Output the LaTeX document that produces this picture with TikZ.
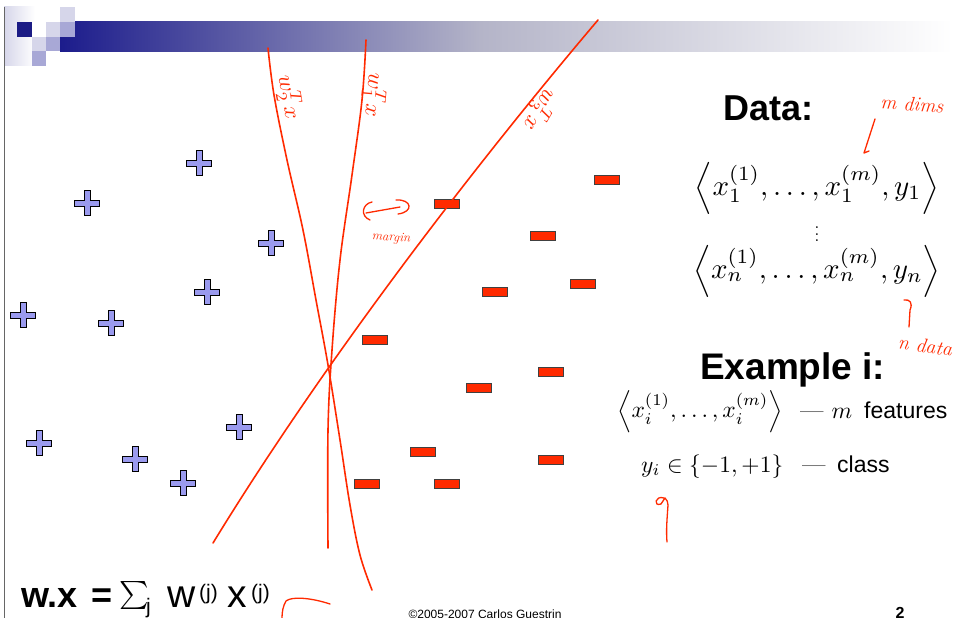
\documentclass[tikz,border=0pt]{standalone}
\usepackage{graphicx}
\usepackage{fontspec}
\setsansfont{Liberation Sans}
\definecolor{navy}{HTML}{1C1C8C}
\definecolor{barmid}{HTML}{B4B4C8}
\definecolor{lavL}{HTML}{D6D6EA}
\definecolor{lavM}{HTML}{A8A8D6}
\definecolor{plusfill}{HTML}{9A9AEE}
\definecolor{minusfill}{HTML}{FF2A00}
\definecolor{ink}{HTML}{FF2A00}
\tikzset{
  plusmark/.pic={\filldraw[fill=plusfill,draw=black,line width=0.9pt]
    (-3,-12.5) -- (3,-12.5) -- (3,-3) -- (12.5,-3) -- (12.5,3) -- (3,3) -- (3,12.5)
    -- (-3,12.5) -- (-3,3) -- (-12.5,3) -- (-12.5,-3) -- (-3,-3) -- cycle;},
  minusmark/.pic={\filldraw[fill=minusfill,draw=black!75,line width=0.9pt]
    (-12.5,-4.5) rectangle (12.5,4.5);},
  inkline/.style={draw=ink,line width=1.6pt,line cap=round,line join=round},
  inkthin/.style={draw=ink,line width=1.3pt,line cap=round,line join=round},
  hand/.style={text=ink,font=\itshape,inner sep=0pt},
  bigsans/.style={font=\sffamily\bfseries,inner sep=0pt},
  mathtxt/.style={inner sep=0pt},
  wxtxt/.style={anchor=base west,inner sep=0pt,font=\sffamily\fontsize{39}{42}\selectfont},
  suptxt/.style={anchor=base west,inner sep=0pt,font=\sffamily\fontsize{21}{23}\selectfont},
}
\begin{document}
\begin{tikzpicture}[x=1pt,y=-1pt]
\clip (0,0) rectangle (953,618);
\fill[white] (0,0) rectangle (953,618);
% header bar
\shade[left color=navy,right color=barmid] (60,22) rectangle (480,52);
\shade[left color=barmid,right color=white] (479.5,22) rectangle (953,52);
\shade[left color=lavL,right color=white] (4,7) rectangle (35,66);
\fill[white] (32,22) rectangle (60,37);
\fill[navy!95!black] (17,22) rectangle (32,37);
\fill[lavL] (60,7) rectangle (75,22);
\fill[lavL] (46,22) rectangle (60,37);
\fill[lavM] (60,22) rectangle (75,37);
\fill[lavL] (32,37) rectangle (46,51);
\fill[lavM] (46,37) rectangle (60,51);
\fill[lavM] (32,51) rectangle (46,66);
\draw[black!60,line width=1pt] (4,7) -- (4,618);
% plus points
\foreach \p in {(199,163),(87,203),(271,243),(207,292),(23,315),(111,323),(39,443),(135,459),(239,427),(183,483)}
  \pic at \p {plusmark};
% minus points
\foreach \p in {(607,180),(447,204),(543,236),(495,292),(583,284),(375,340),(551,372),(479,388),(423,452),(551,460),(367,484),(447,484)}
  \pic at \p {minusmark};
% separating lines
\draw[inkline] plot[smooth,tension=0.6] coordinates {(268,48) (274,95) (287,160) (303,230) (316,300) (328,365) (340,440) (350,505) (360,555) (372,590)};
\draw[inkline] plot[smooth,tension=0.6] coordinates {(366,40) (362,100) (352,175) (340,260) (332,350) (328,430) (328,548)};
\draw[inkline] (598,20) .. controls (475,165) and (325,360) .. (213,543);
% line labels
\node[hand,rotate=-80] (lw2) at (289,97) {\scalebox{2.3}{$w_2^T x$}};
\node[hand,rotate=-95] (lw1) at (374,95) {\scalebox{2.3}{$w_1^T x$}};
\node[hand,rotate=-120] (lw3) at (540,110) {\scalebox{2.3}{$w_3^T x$}};
% margin
\draw[inkthin] (372,202) .. controls (362,204) and (360,216) .. (370,220);
\draw[inkthin] (366,213) -- (400,207);
\draw[inkthin] (396,200) .. controls (412,199) and (414,212) .. (398,214);
\node[hand,font=\itshape\fontsize{13}{13}\selectfont,rotate=-4] (mg) at (391,238) {margin};
% right text
\node[bigsans,anchor=base west,font=\sffamily\bfseries\fontsize{36}{40}\selectfont] (data) at (723,120) {Data:};
\node[mathtxt] (row1) at (817,188) {\scalebox{2.9}{$\left\langle x_1^{(1)},\ldots,x_1^{(m)},y_1\right\rangle$}};
\node[mathtxt] (vd) at (817,229) {\scalebox{1.7}{$\vdots$}};
\node[mathtxt] (rown) at (817,271) {\scalebox{2.9}{$\left\langle x_n^{(1)},\ldots,x_n^{(m)},y_n\right\rangle$}};
\node[bigsans,anchor=base west,font=\sffamily\bfseries\fontsize{37}{40}\selectfont] (ex) at (700,379) {Example i:};
\node[mathtxt,anchor=west] (exf) at (617,412) {\scalebox{2.35}{$\left\langle x_i^{(1)},\ldots,x_i^{(m)}\right\rangle$}};
\node[mathtxt,anchor=base west] (fdash) at (800,418) {\scalebox{2.35}{--- $m$}};
\node[mathtxt,anchor=base west,font=\sffamily\fontsize{23}{26}\selectfont] (feat) at (864,418) {features};
\node[mathtxt,anchor=base west] (ycls) at (641,472) {\scalebox{2.35}{$y_i\in\{-1,+1\}$}};
\node[mathtxt,anchor=base west] (cdash) at (802,472) {\scalebox{2.35}{---}};
\node[mathtxt,anchor=base west,font=\sffamily\fontsize{23}{26}\selectfont] (cls) at (837,472) {class};
% handwritten notes on right
\node[hand,font=\itshape\fontsize{20}{20}\selectfont,rotate=-4] (mdims) at (912,104) {m dims};
\draw[inkthin] (875,119) -- (864,153) -- (869,151);
\node[hand,font=\itshape\fontsize{20}{20}\selectfont,rotate=-8,anchor=west] (ndata) at (898,342) {n data};
\draw[inkthin] (904,300) .. controls (910,299) and (913,303) .. (910,310) -- (909,327);
\draw[inkthin] (664,498) .. controls (655,495) and (653,507) .. (661,504) -- (665,498) .. controls (667,500) and (668,502) .. (668,505) .. controls (667,520) and (666,530) .. (667,542);
% bottom formula
\node[wxtxt,font=\sffamily\bfseries\fontsize{36}{40}\selectfont] (wdotx) at (21,607) {w.x};
\node[wxtxt,font=\sffamily\bfseries\fontsize{36}{40}\selectfont] (eq) at (91,607) {=};
\node[anchor=base west,inner sep=0pt] (sum) at (119,602) {\scalebox{2.8}{$\sum$}};
\node[suptxt] (sj) at (146,613) {j};
\node[wxtxt] (wj) at (167,607) {w};
\node[suptxt] (wsup) at (199,599) {(j)};
\node[wxtxt] (xj) at (227,607) {x};
\node[suptxt] (xsup) at (251,599) {(j)};
\draw[inkthin] (330,604) .. controls (312,598) and (292,596) .. (286,601) .. controls (283,606) and (282,612) .. (282,618);
\node[anchor=base,inner sep=0pt,font=\sffamily\fontsize{12}{12}\selectfont] (copy) at (485,618) {\textcopyright 2005-2007 Carlos Guestrin};
\node[anchor=base,inner sep=0pt,font=\sffamily\bfseries\fontsize{16}{16}\selectfont] (pg) at (900,618) {2};
\end{tikzpicture}
\end{document}
